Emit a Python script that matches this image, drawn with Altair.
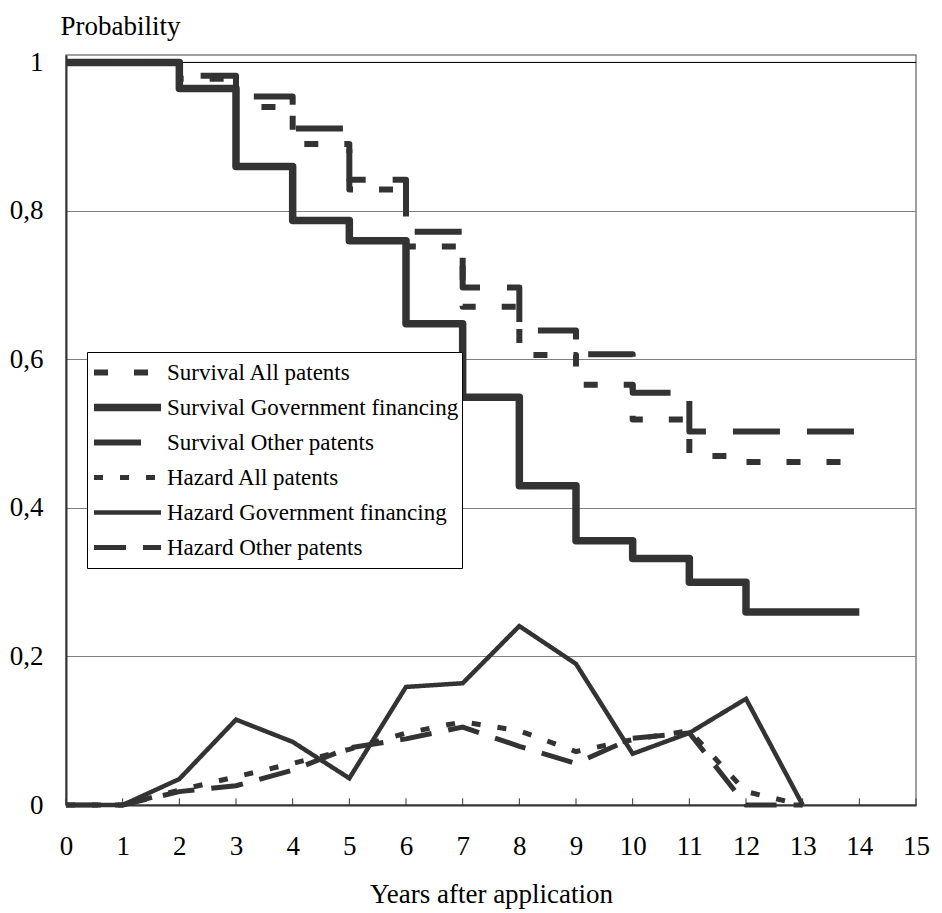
import altair as alt
import pandas as pd

# ---- data ----
series = [
    "Survival All patents",
    "Survival Government financing",
    "Survival Other patents",
    "Hazard All patents",
    "Hazard Government financing",
    "Hazard Other patents",
]

surv_years = list(range(0, 15))
surv_all = [1.0, 1.0, 0.978, 0.94, 0.89, 0.829, 0.752, 0.671, 0.606, 0.566, 0.519, 0.47, 0.462, 0.462, 0.462]
surv_gov = [1.0, 1.0, 0.965, 0.86, 0.787, 0.76, 0.648, 0.549, 0.43, 0.356, 0.332, 0.30, 0.26, 0.26, 0.26]
surv_other = [1.0, 1.0, 0.982, 0.954, 0.911, 0.842, 0.772, 0.697, 0.639, 0.607, 0.555, 0.503, 0.503, 0.503, 0.503]

haz_years = list(range(0, 14))
haz_all = [0, 0, 0.02, 0.038, 0.056, 0.075, 0.097, 0.112, 0.1, 0.072, 0.088, 0.1, 0.018, 0]
haz_gov = [0, 0, 0.035, 0.115, 0.085, 0.036, 0.159, 0.164, 0.241, 0.19, 0.069, 0.097, 0.143, 0]
haz_other = [0, 0, 0.018, 0.026, 0.047, 0.077, 0.089, 0.105, 0.079, 0.056, 0.09, 0.097, 0, 0]

x_ticks = list(range(0, 16))
y_ticks = [0, 0.2, 0.4, 0.6, 0.8, 1.0]

# ---- styles ----
dashes = [[14, 26], [1, 0], [47, 27], [9, 17], [1, 0], [32, 17]]
widths = [6, 7.5, 6, 5, 4.5, 5]
line_color = "#333333"
FONT = "Liberation Serif"

rows = []
for name, vals in zip(series[:3], [surv_all, surv_gov, surv_other]):
    for x, v in zip(surv_years, vals):
        rows.append({"series": name, "year": x, "p": v})
surv_df = pd.DataFrame(rows)

rows = []
for name, vals in zip(series[3:], [haz_all, haz_gov, haz_other]):
    for x, v in zip(haz_years, vals):
        rows.append({"series": name, "year": x, "p": v})
haz_df = pd.DataFrame(rows)

tick_df = pd.DataFrame({"t": x_ticks})

xscale = alt.Scale(domain=[0, 15], nice=False, zero=False)
yscale = alt.Scale(domain=[0, 1.01], nice=False)

legend = alt.Legend(
    title=None,
    orient="none",
    legendX=21,
    legendY=297,
    symbolType="stroke",
    symbolSize=4489,
    symbolStrokeColor=line_color,
    clipHeight=35,
    rowPadding=0,
    padding=3,
    labelOffset=2,
    labelFont=FONT,
    labelFontSize=23,
    labelColor="black",
    labelLimit=0,
    strokeColor="black",
    fillColor="white",
)

x_enc = alt.X(
    "year:Q",
    scale=xscale,
    axis=alt.Axis(
        values=x_ticks,
        format="d",
        title="Years after application",
        grid=False,
        ticks=False,
        tickSize=0,
        labelPadding=28,
        titlePadding=22,
        labelFlush=False,
        domainColor=line_color,
        domainWidth=2,
    ),
)
y_enc = alt.Y(
    "p:Q",
    scale=yscale,
    axis=alt.Axis(
        values=y_ticks,
        title="Probability",
        titleAngle=0,
        titleAlign="left",
        titleBaseline="alphabetic",
        titleX=-6,
        titleY=-21,
        grid=True,
        gridColor="#808080",
        gridWidth=1,
        ticks=False,
        tickSize=0,
        labelAlign="right",
        labelBaseline="middle",
        labelPadding=23,
        labelExpr="replace(format(datum.value, '.1~f'), '.', ',')",
        domainColor=line_color,
        domainWidth=2,
    ),
)

dash_enc = alt.StrokeDash(
    "series:N",
    scale=alt.Scale(type="ordinal", domain=series, range=dashes),
    legend=legend,
)
width_enc = alt.StrokeWidth(
    "series:N",
    scale=alt.Scale(type="ordinal", domain=series, range=widths),
    legend=legend,
)

surv = alt.Chart(surv_df).mark_line(
    interpolate="step-after", color=line_color, strokeJoin="round"
).encode(x=x_enc, y=y_enc, strokeDash=dash_enc, strokeWidth=width_enc, detail="series:N")

haz = alt.Chart(haz_df).mark_line(color=line_color, strokeJoin="miter").encode(
    x=alt.X("year:Q", scale=xscale),
    y=alt.Y("p:Q", scale=yscale),
    strokeDash=dash_enc,
    strokeWidth=width_enc,
    detail="series:N",
)

top_rule = alt.Chart(pd.DataFrame({"v": [1.0]})).mark_rule(color="black", strokeWidth=1).encode(
    y=alt.Y("v:Q", scale=yscale)
)

ticks = alt.Chart(tick_df).mark_rule(color=line_color, strokeWidth=1).encode(
    x=alt.X("t:Q", scale=xscale),
    y=alt.datum(0),
    y2=alt.datum(0.009),
)

chart = (
    alt.layer(top_rule, surv, haz, ticks)
    .properties(
        width=850,
        height=750,
        autosize=alt.AutoSizeParams(type="none"),
        padding={"left": 58, "top": 47, "right": 18, "bottom": 106},
    )
    .configure(font=FONT)
    .configure_view(stroke="#808080", strokeWidth=1.5)
    .configure_axis(
        labelFont=FONT,
        titleFont=FONT,
        labelFontSize=27,
        titleFontSize=27,
        labelColor="black",
        titleColor="black",
        titleFontWeight="normal",
    )
)

chart.save("out.html", embed_options={"renderer": "svg", "actions": False})
